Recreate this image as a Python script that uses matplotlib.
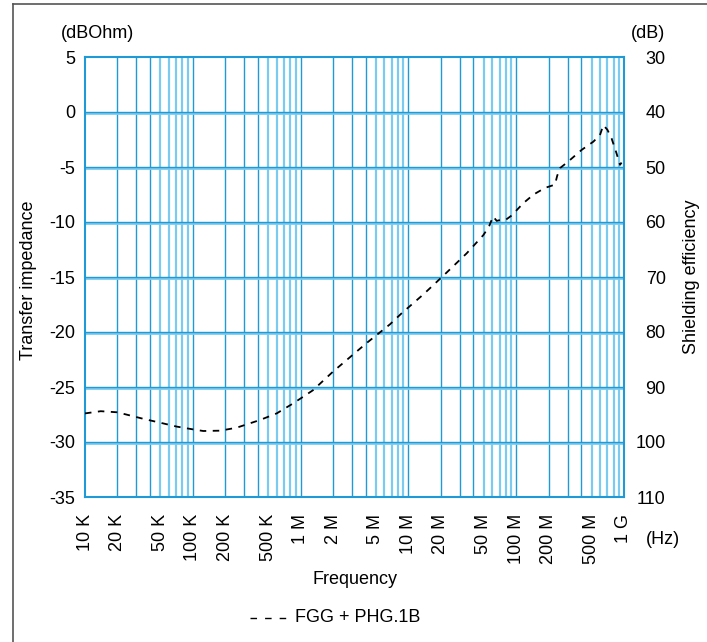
import numpy as np
import matplotlib
matplotlib.use("Agg")
import matplotlib.pyplot as plt
from matplotlib.lines import Line2D

plt.rcParams['font.family'] = ['Liberation Sans', 'DejaVu Sans']

# Curve (frequency in Hz, transfer impedance in dBOhm)
freq_hz = [10e3, 14e3, 20e3, 35e3, 50e3, 71e3, 100e3, 125e3, 180e3, 255e3,
           420e3, 600e3, 850e3, 1.3e6, 2.0e6, 4.1e6, 6.75e6, 8.65e6, 13.7e6,
           21e6, 34.7e6, 49.5e6, 56e6, 61e6, 66e6, 72e6, 80e6, 91e6, 116e6,
           145e6, 185e6, 229e6, 240e6, 255e6, 304e6, 404e6, 519e6, 598e6,
           643e6, 700e6, 767e6, 852e6, 918e6, 950e6]
impedance_db = [-27.4, -27.2, -27.3, -27.9, -28.25, -28.6, -28.85, -29.0, -28.97, -28.7,
                -28.0, -27.4, -26.5, -25.3, -23.6, -21.0, -19.3, -18.3, -16.6,
                -14.9, -12.85, -11.2, -10.4, -9.5, -9.9, -9.8, -9.8, -9.4, -8.3,
                -7.5, -6.9, -6.6, -5.8, -5.1, -4.5, -3.45, -2.7, -2.1,
                -1.2, -1.6, -2.4, -3.75, -4.8, -4.6]

xtick_vals = [1e4, 2e4, 5e4, 1e5, 2e5, 5e5, 1e6, 2e6, 5e6, 1e7, 2e7, 5e7,
              1e8, 2e8, 5e8, 1e9]
xtick_labels = ['10 K', '20 K', '50 K', '100 K', '200 K', '500 K', '1 M', '2 M',
                '5 M', '10 M', '20 M', '50 M', '100 M', '200 M', '500 M', '1 G']
left_ticks = [5, 0, -5, -10, -15, -20, -25, -30, -35]
right_labels = ['30', '40', '50', '60', '70', '80', '90', '100', '110']

grid_blue = '#1f9ad6'
light_blue = '#7ccbef'
fs = 13

fig = plt.figure(figsize=(7.07, 6.42), dpi=100)
W, H = 707, 642
ax = fig.add_axes([85 / W, 1 - 497 / H, (624 - 85) / W, (497 - 57) / H])

ax.set_xscale('log')
ax.set_xlim(1e4, 1e9)
ax.set_ylim(-35, 5)

# grid: every 1..9 per decade
minor = [m * 10 ** e for e in range(4, 9) for m in range(2, 10)]
for xv in minor:
    c = light_blue if (xv / 10 ** np.floor(np.log10(xv))) in (5, 6, 7, 8, 9) else grid_blue
    lw = 1.6 if c == light_blue else 1.0
    ax.axvline(xv, color=c, lw=lw, zorder=1)
for e in range(5, 9):
    ax.axvline(10 ** e, color=grid_blue, lw=1.0, zorder=1)
for yv in left_ticks[1:-1]:
    ax.axhline(yv - 0.08, color=light_blue, lw=2.0, zorder=1)
    ax.axhline(yv, color=grid_blue, lw=1.0, zorder=1)

for s in ax.spines.values():
    s.set_color(grid_blue)
    s.set_linewidth(1.5)

ax.plot(freq_hz, impedance_db, color='black', lw=1.3, ls=(0, (3.6, 3.6)), zorder=3)

ax.set_xticks(xtick_vals)
ax.set_xticklabels(xtick_labels, rotation=90, fontsize=fs)
ax.xaxis.set_minor_locator(matplotlib.ticker.NullLocator())
ax.set_yticks(left_ticks)
ax.set_yticklabels([str(v) for v in left_ticks], fontsize=fs)
ax.tick_params(axis='both', length=0)
ax.tick_params(axis='y', pad=7)
ax.tick_params(axis='x', pad=12)

ax2 = ax.twinx()
ax2.set_ylim(-35, 5)
ax2.set_yticks(left_ticks)
ax2.set_yticklabels(right_labels, fontsize=fs, ha='right')
ax2.tick_params(axis='y', length=0, pad=30)
for s in ax2.spines.values():
    s.set_visible(False)

ax.set_xlabel('Frequency', fontsize=fs, labelpad=5)
fig.text(29 / W, 1 - 280 / H, 'Transfer impedance', rotation=90, fontsize=fs,
         ha='center', va='center')
fig.text(692 / W, 1 - 277 / H, 'Shielding efficiency', rotation=90, fontsize=fs,
         ha='center', va='center')
fig.text(97 / W, 1 - 33 / H, '(dBOhm)', fontsize=fs, ha='center', va='center')
fig.text(648 / W, 1 - 33 / H, '(dB)', fontsize=fs, ha='center', va='center')
fig.text(663 / W, 1 - 540 / H, '(Hz)', fontsize=fs, ha='center', va='center')

# legend
fig.add_artist(Line2D([250 / W, 286 / W], [1 - 618 / H, 1 - 618 / H],
                      color='black', lw=1.0, ls=(0, (4.7, 5.8))))
fig.text(295 / W, 1 - 618 / H, 'FGG + PHG.1B', fontsize=fs, ha='left', va='center')

# frame (left and top only)
fig.add_artist(Line2D([13 / W, 13 / W], [0, 1 - 4 / H], color='#555555', lw=1.2))
fig.add_artist(Line2D([13 / W, 1], [1 - 4 / H, 1 - 4 / H], color='#555555', lw=1.2))

fig.savefig('out.png', dpi=100, facecolor='white')
